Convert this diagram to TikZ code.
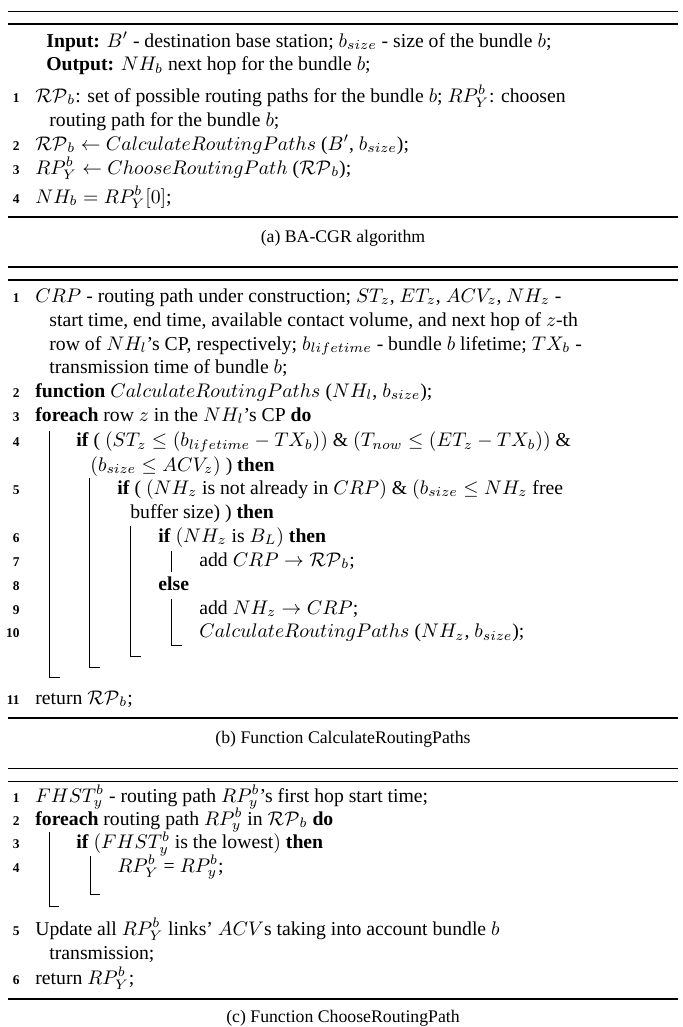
\documentclass[tikz,border=0pt]{standalone}
\usepackage[no-math]{fontspec}
\setmainfont{Liberation Serif}
\begin{document}
\begin{tikzpicture}[x=0.5076pt,y=-0.5076pt,
  txt/.style={anchor=base west,inner sep=0pt,font=\fontsize{10}{12}\selectfont},
  num/.style={anchor=base east,inner sep=0pt,font=\fontsize{6.8}{7}\selectfont\bfseries},
  capt/.style={anchor=base,inner sep=0pt,font=\fontsize{9}{11}\selectfont},
  rulel/.style={line width=0.75pt},
  blk/.style={line width=0.5pt}]
\useasboundingbox (0,0) rectangle (683,1027);
% ---------------- (a)
\draw[rulel] (8,11.7) -- (678,11.7);
\draw[rulel] (8,24) -- (678,24);
\node[txt] (ain) at (46,47) {\textbf{Input:} $B'$ - destination base station; $b_{size}$ - size of the bundle $b$;};
\node[txt] (aout) at (46,70.5) {\textbf{Output:} $NH_b$ next hop for the bundle $b$;};
\node[num] (an1) at (20,102) {1};
\node[txt] (a1) at (35,102) {$\mathcal{RP}_b$: set of possible routing paths for the bundle $b$; $RP_Y^b$: choosen};
\node[txt] (a1c) at (49,126) {routing path for the bundle $b$;};
\node[num] (an2) at (20,150) {2};
\node[txt] (a2) at (35,150) {$\mathcal{RP}_b \leftarrow CalculateRoutingPaths$ ($B'$, $b_{size}$);};
\node[num] (an3) at (20,174) {3};
\node[txt] (a3) at (35,174) {$RP_Y^b \leftarrow ChooseRoutingPath$ ($\mathcal{RP}_b$);};
\node[num] (an4) at (20,203) {4};
\node[txt] (a4) at (35,203) {$NH_b = RP_Y^b[0]$;};
\draw[rulel] (8,217) -- (678,217);
\node[capt] (capa) at (343,242) {(a) BA-CGR algorithm};
% ---------------- (b)
\draw[rulel] (8,267) -- (678,267);
\draw[rulel] (8,280) -- (678,280);
\node[num] (bn1) at (20,302) {1};
\node[txt] (b1) at (35,302) {$CRP$ - routing path under construction; $ST_z$, $ET_z$, $ACV_z$, $NH_z$ -};
\node[txt] (b1c) at (49,326) {start time, end time, available contact volume, and next hop of $z$-th};
\node[txt] (b1d) at (49,350) {row of $NH_l$'s CP, respectively; $b_{lifetime}$ - bundle $b$ lifetime; $TX_b$ -};
\node[txt] (b1e) at (49,373.5) {transmission time of bundle $b$;};
\node[num] (bn2) at (20,397) {2};
\node[txt] (b2) at (35,397) {\textbf{function} $CalculateRoutingPaths$ ($NH_l$, $b_{size}$);};
\node[num] (bn3) at (20,421) {3};
\node[txt] (b3) at (35,421) {\textbf{foreach} row $z$ in the $NH_l$'s CP \textbf{do}};
\node[num] (bn4) at (20,446.5) {4};
\node[txt] (b4) at (76,446.5) {\textbf{if} ( $(ST_z \leq (b_{lifetime} - TX_b))$ \& $(T_{now} \leq (ET_z - TX_b))$ \&};
\node[txt] (b4c) at (90,471) {$(b_{size} \leq ACV_z)$ ) \textbf{then}};
\node[num] (bn5) at (20,494) {5};
\node[txt] (b5) at (117,494) {\textbf{if} ( $(NH_z$ is not already in $CRP)$ \& $(b_{size} \leq NH_z$ free};
\node[txt] (b5c) at (130,518) {buffer size) ) \textbf{then}};
\node[num] (bn6) at (20,542) {6};
\node[txt] (b6) at (158,542) {\textbf{if} $(NH_z$ is $B_L)$ \textbf{then}};
\node[num] (bn7) at (20,566) {7};
\node[txt] (b7) at (199,566) {add $CRP \rightarrow \mathcal{RP}_b$;};
\node[num] (bn8) at (20,590) {8};
\node[txt] (b8) at (158,590) {\textbf{else}};
\node[num] (bn9) at (20,614) {9};
\node[txt] (b9) at (199,614) {add $NH_z \rightarrow CRP$;};
\node[num] (bn10) at (20,637.5) {10};
\node[txt] (b10) at (199,637.5) {$CalculateRoutingPaths$ ($NH_z$, $b_{size}$);};
\node[num] (bn11) at (20,704) {11};
\node[txt] (b11) at (35,704) {return $\mathcal{RP}_b$;};
% block lines (b)
\draw[blk] (49,431) -- (49,677) -- (60,677);
\draw[blk] (89,478) -- (89,667) -- (100,667);
\draw[blk] (130,526) -- (130,656) -- (141,656);
\draw[blk] (171,551) -- (171,572);
\draw[blk] (171,599) -- (171,645) -- (182,645);
\draw[rulel] (8,718) -- (678,718);
\node[capt] (capb) at (343,743) {(b) Function CalculateRoutingPaths};
% ---------------- (c)
\draw[rulel] (8,768.5) -- (678,768.5);
\draw[rulel] (8,781.7) -- (678,781.7);
\node[num] (cn1) at (20,802) {1};
\node[txt] (c1) at (35,802) {$FHST_y^b$ - routing path $RP_y^b$'s first hop start time;};
\node[num] (cn2) at (20,825) {2};
\node[txt] (c2) at (35,825) {\textbf{foreach} routing path $RP_y^b$ in $\mathcal{RP}_b$ \textbf{do}};
\node[num] (cn3) at (20,848.5) {3};
\node[txt] (c3) at (76,848.5) {\textbf{if} $(FHST_y^b$ is the lowest$)$ \textbf{then}};
\node[num] (cn4) at (20,872) {4};
\node[txt] (c4) at (117,872) {$RP_Y^b$ = $RP_y^b$;};
\draw[blk] (49,832) -- (49,906) -- (59,906);
\draw[blk] (90,856) -- (90,894) -- (100,894);
\node[num] (cn5) at (20,935) {5};
\node[txt] (c5) at (35,935) {Update all $RP_Y^b$ links' $ACV$s taking into account bundle $b$};
\node[txt] (c5c) at (49,959) {transmission;};
\node[num] (cn6) at (20,984) {6};
\node[txt] (c6) at (35,984) {return $RP_Y^b$;};
\draw[rulel] (8,999) -- (678,999);
\node[capt] (capc) at (343,1022) {(c) Function ChooseRoutingPath};
\end{tikzpicture}
\end{document}
